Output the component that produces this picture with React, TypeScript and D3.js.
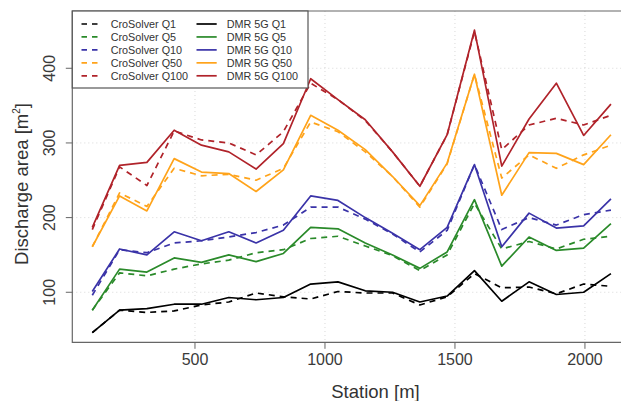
import React from "react";
import * as d3 from "d3";

const stations = [105, 210, 315, 420, 525, 630, 735, 840, 945, 1050, 1155, 1260, 1365, 1470, 1575, 1680, 1785, 1890, 1995, 2100];

const croQ1 = [46, 76, 73, 75, 83, 87, 99, 94, 91, 101, 99, 99, 83, 94, 125, 106, 107, 98, 111, 108];
const dmrQ1 = [46, 76, 78, 84, 84, 93, 90, 93, 111, 114, 102, 100, 87, 95, 129, 88, 114, 97, 100, 125];
const croQ5 = [76, 126, 122, 131, 138, 143, 153, 157, 172, 175, 162, 149, 129, 150, 219, 158, 168, 158, 171, 175];
const dmrQ5 = [76, 131, 127, 146, 140, 150, 141, 152, 187, 185, 166, 150, 132, 154, 224, 135, 174, 156, 159, 192];
const croQ10 = [96, 157, 153, 166, 169, 174, 180, 190, 214, 214, 198, 178, 154, 183, 271, 184, 200, 190, 204, 210];
const dmrQ10 = [101, 158, 150, 181, 169, 181, 166, 183, 229, 223, 200, 179, 157, 187, 271, 161, 206, 186, 189, 225];
const croQ50 = [161, 233, 215, 266, 256, 258, 250, 266, 328, 315, 288, 255, 214, 272, 392, 253, 284, 266, 284, 297];
const dmrQ50 = [161, 229, 209, 279, 261, 259, 235, 264, 337, 317, 291, 255, 216, 273, 392, 230, 287, 286, 271, 311];
const croQ100 = [184, 268, 243, 316, 304, 300, 284, 315, 380, 358, 330, 288, 242, 311, 449, 291, 324, 333, 324, 337];
const dmrQ100 = [187, 270, 274, 317, 297, 288, 265, 299, 386, 358, 331, 288, 242, 311, 451, 269, 332, 380, 310, 352];

const xTicks = [500, 1000, 1500, 2000];
const yTicks = [100, 200, 300, 400];

const colors = ["#000000", "#2a8a2a", "#3a33a8", "#ffa31a", "#b0232a"];
const qLabels = ["Q1", "Q5", "Q10", "Q50", "Q100"];
const croSeries = [croQ1, croQ5, croQ10, croQ50, croQ100];
const dmrSeries = [dmrQ1, dmrQ5, dmrQ10, dmrQ50, dmrQ100];

const W = 621;
const H = 401;
const left = 72.3;
const right = 632;
const top = 11;
const bottom = 342.3;

export default function App() {
  const x = d3.scaleLinear().domain([28.1, 2181]).range([left, right]);
  const y = d3.scaleLinear().domain([33, 476.7]).range([bottom, top]);
  const line = d3
    .line<number>()
    .x((_, i) => x(stations[i]))
    .y((d) => y(d));

  const font = "'Liberation Sans', Arial, Helvetica, sans-serif";
  const dash = "6,5";

  return (
    <svg
      width={W}
      height={H}
      style={{ position: "absolute", left: 0, top: 0, background: "#fff" }}
      fontFamily={font}
    >
      <defs>
        <clipPath id="plotclip">
          <rect x={left} y={top} width={right - left} height={bottom - top} />
        </clipPath>
      </defs>
      {/* grid */}
      {xTicks.map((t) => (
        <line key={"gx" + t} x1={x(t)} x2={x(t)} y1={top} y2={bottom} stroke="#cfcfcf" strokeWidth={0.8} strokeDasharray="1,3" />
      ))}
      {yTicks.map((t) => (
        <line key={"gy" + t} x1={left} x2={W} y1={y(t)} y2={y(t)} stroke="#cfcfcf" strokeWidth={0.8} strokeDasharray="1,3" />
      ))}
      {/* series */}
      <g clipPath="url(#plotclip)" fill="none" strokeLinejoin="round">
        {croSeries.map((s, i) => (
          <path key={"c" + i} d={line(s) || ""} stroke={colors[i]} strokeWidth={1.7} strokeDasharray={dash} />
        ))}
        {dmrSeries.map((s, i) => (
          <path key={"d" + i} d={line(s) || ""} stroke={colors[i]} strokeWidth={1.7} />
        ))}
      </g>
      {/* frame */}
      <path d={`M${W},${top}H${left}V${bottom}H${W}`} fill="none" stroke="#666" strokeWidth={1.2} />
      {/* y ticks */}
      {yTicks.map((t) => (
        <g key={"ty" + t}>
          <line x1={left - 6.5} x2={left} y1={y(t)} y2={y(t)} stroke="#666" strokeWidth={1} />
          <text
            x={left - 17}
            y={y(t)}
            transform={`rotate(-90 ${left - 17} ${y(t)})`}
            textAnchor="middle"
            fontSize={16}
            fill="#3a3a3a"
          >
            {t}
          </text>
        </g>
      ))}
      {/* x ticks */}
      {xTicks.map((t) => (
        <g key={"tx" + t}>
          <line x1={x(t)} x2={x(t)} y1={bottom} y2={bottom + 6.5} stroke="#666" strokeWidth={1} />
          <text x={x(t)} y={bottom + 22.7} textAnchor="middle" fontSize={16} fill="#3a3a3a">
            {t}
          </text>
        </g>
      ))}
      {/* axis titles */}
      <text x={375.5} y={398} textAnchor="middle" fontSize={18.5} fill="#333">
        Station [m]
      </text>
      <text
        x={28}
        y={184}
        transform="rotate(-90 28 184)"
        textAnchor="middle"
        fontSize={18.5}
        fill="#333"
      >
        Discharge area [m<tspan dy={-8} fontSize={10}>2</tspan><tspan dy={8}>]</tspan>
      </text>
      {/* legend */}
      <rect x={left} y={top} width={308 - left} height={88 - top} fill="#fff" stroke="#555" strokeWidth={1.2} />
      {qLabels.map((q, i) => {
        const ly = 24 + i * 12.95;
        return (
          <g key={"lg" + q}>
            <line x1={81.5} x2={99} y1={ly} y2={ly} stroke={colors[i]} strokeWidth={1.7} strokeDasharray="5.5,5" />
            <text x={110.7} y={ly + 4} fontSize={10.8} fill="#333">
              {"CroSolver " + q}
            </text>
            <line x1={196.5} x2={216.7} y1={ly} y2={ly} stroke={colors[i]} strokeWidth={1.7} />
            <text x={226.7} y={ly + 4} fontSize={10.8} fill="#333">
              {"DMR 5G " + q}
            </text>
          </g>
        );
      })}
    </svg>
  );
}
